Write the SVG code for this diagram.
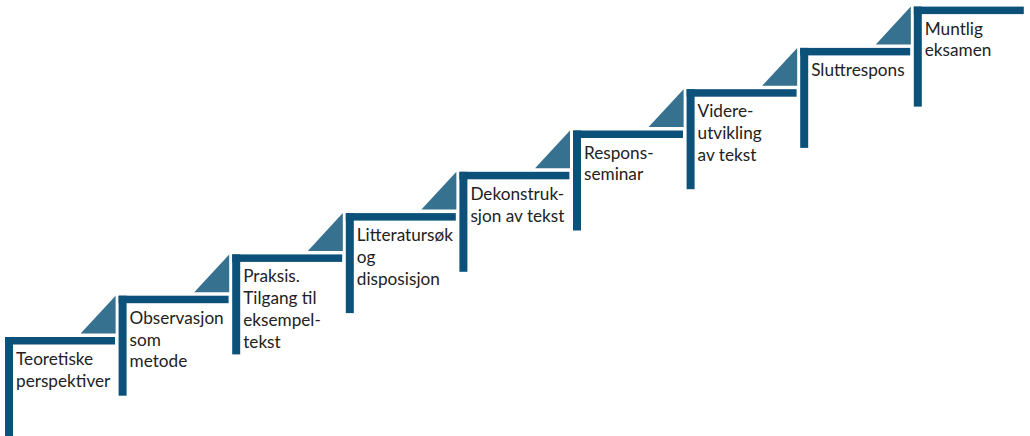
<svg xmlns="http://www.w3.org/2000/svg" width="1030" height="436" viewBox="0 0 1030 436">
<style>
.bar{fill:#0b5179}
.tri{fill:#36718f}
.lbl{font-family:Lato,"Liberation Sans",sans-serif;font-size:17.2px;fill:#222}
</style>
<rect width="1030" height="436" fill="#fff"/>
<g id="connectors">
<polygon class="tri" points="115.6,295.7 115.6,333.5 80.6,333.5"/>
<polygon class="tri" points="229.2,254.4 229.2,292.2 194.2,292.2"/>
<polygon class="tri" points="342.8,213.1 342.8,250.9 307.8,250.9"/>
<polygon class="tri" points="456.4,171.8 456.4,209.6 421.4,209.6"/>
<polygon class="tri" points="570,130.5 570,168.3 535,168.3"/>
<polygon class="tri" points="683.6,89.2 683.6,127 648.6,127"/>
<polygon class="tri" points="797.2,47.9 797.2,85.7 762.2,85.7"/>
<polygon class="tri" points="910.8,6.6 910.8,44.4 875.8,44.4"/>
</g>
<g id="step1">
<rect class="bar" x="5" y="337" width="110" height="7.5"/>
<rect class="bar" x="5" y="337" width="8" height="100"/>
<text class="lbl" x="16" y="365"><tspan x="16">Teoretiske</tspan><tspan x="16" dy="21.8">perspektiver</tspan></text>
</g>
<g id="step2">
<rect class="bar" x="118.6" y="295.7" width="110" height="7.5"/>
<rect class="bar" x="118.6" y="295.7" width="8" height="100"/>
<text class="lbl" x="129.6" y="323.7"><tspan x="129.6">Observasjon</tspan><tspan x="129.6" dy="21.8">som</tspan><tspan x="129.6" dy="21.8">metode</tspan></text>
</g>
<g id="step3">
<rect class="bar" x="232.2" y="254.4" width="110" height="7.5"/>
<rect class="bar" x="232.2" y="254.4" width="8" height="100"/>
<text class="lbl" x="243.2" y="282.4"><tspan x="243.2">Praksis.</tspan><tspan x="243.2" dy="21.8">Tilgang til</tspan><tspan x="243.2" dy="21.8">eksempel-</tspan><tspan x="243.2" dy="21.8">tekst</tspan></text>
</g>
<g id="step4">
<rect class="bar" x="345.8" y="213.1" width="110" height="7.5"/>
<rect class="bar" x="345.8" y="213.1" width="8" height="100"/>
<text class="lbl" x="356.8" y="241.1"><tspan x="356.8">Litteraturs&#248;k</tspan><tspan x="356.8" dy="21.8">og</tspan><tspan x="356.8" dy="21.8">disposisjon</tspan></text>
</g>
<g id="step5">
<rect class="bar" x="459.4" y="171.8" width="110" height="7.5"/>
<rect class="bar" x="459.4" y="171.8" width="8" height="100"/>
<text class="lbl" x="470.4" y="199.8"><tspan x="470.4">Dekonstruk-</tspan><tspan x="470.4" dy="21.8">sjon av tekst</tspan></text>
</g>
<g id="step6">
<rect class="bar" x="573" y="130.5" width="110" height="7.5"/>
<rect class="bar" x="573" y="130.5" width="8" height="100"/>
<text class="lbl" x="584" y="158.5"><tspan x="584">Respons-</tspan><tspan x="584" dy="21.8">seminar</tspan></text>
</g>
<g id="step7">
<rect class="bar" x="686.6" y="89.2" width="110" height="7.5"/>
<rect class="bar" x="686.6" y="89.2" width="8" height="100"/>
<text class="lbl" x="697.6" y="117.2"><tspan x="697.6">Videre-</tspan><tspan x="697.6" dy="21.8">utvikling</tspan><tspan x="697.6" dy="21.8">av tekst</tspan></text>
</g>
<g id="step8">
<rect class="bar" x="800.2" y="47.9" width="110" height="7.5"/>
<rect class="bar" x="800.2" y="47.9" width="8" height="100"/>
<text class="lbl" x="811.2" y="75.9">Sluttrespons</text>
</g>
<g id="step9">
<rect class="bar" x="913.8" y="6.6" width="110" height="7.5"/>
<rect class="bar" x="913.8" y="6.6" width="8" height="100"/>
<text class="lbl" x="924.8" y="34.6"><tspan x="924.8">Muntlig</tspan><tspan x="924.8" dy="21.8">eksamen</tspan></text>
</g>
</svg>
